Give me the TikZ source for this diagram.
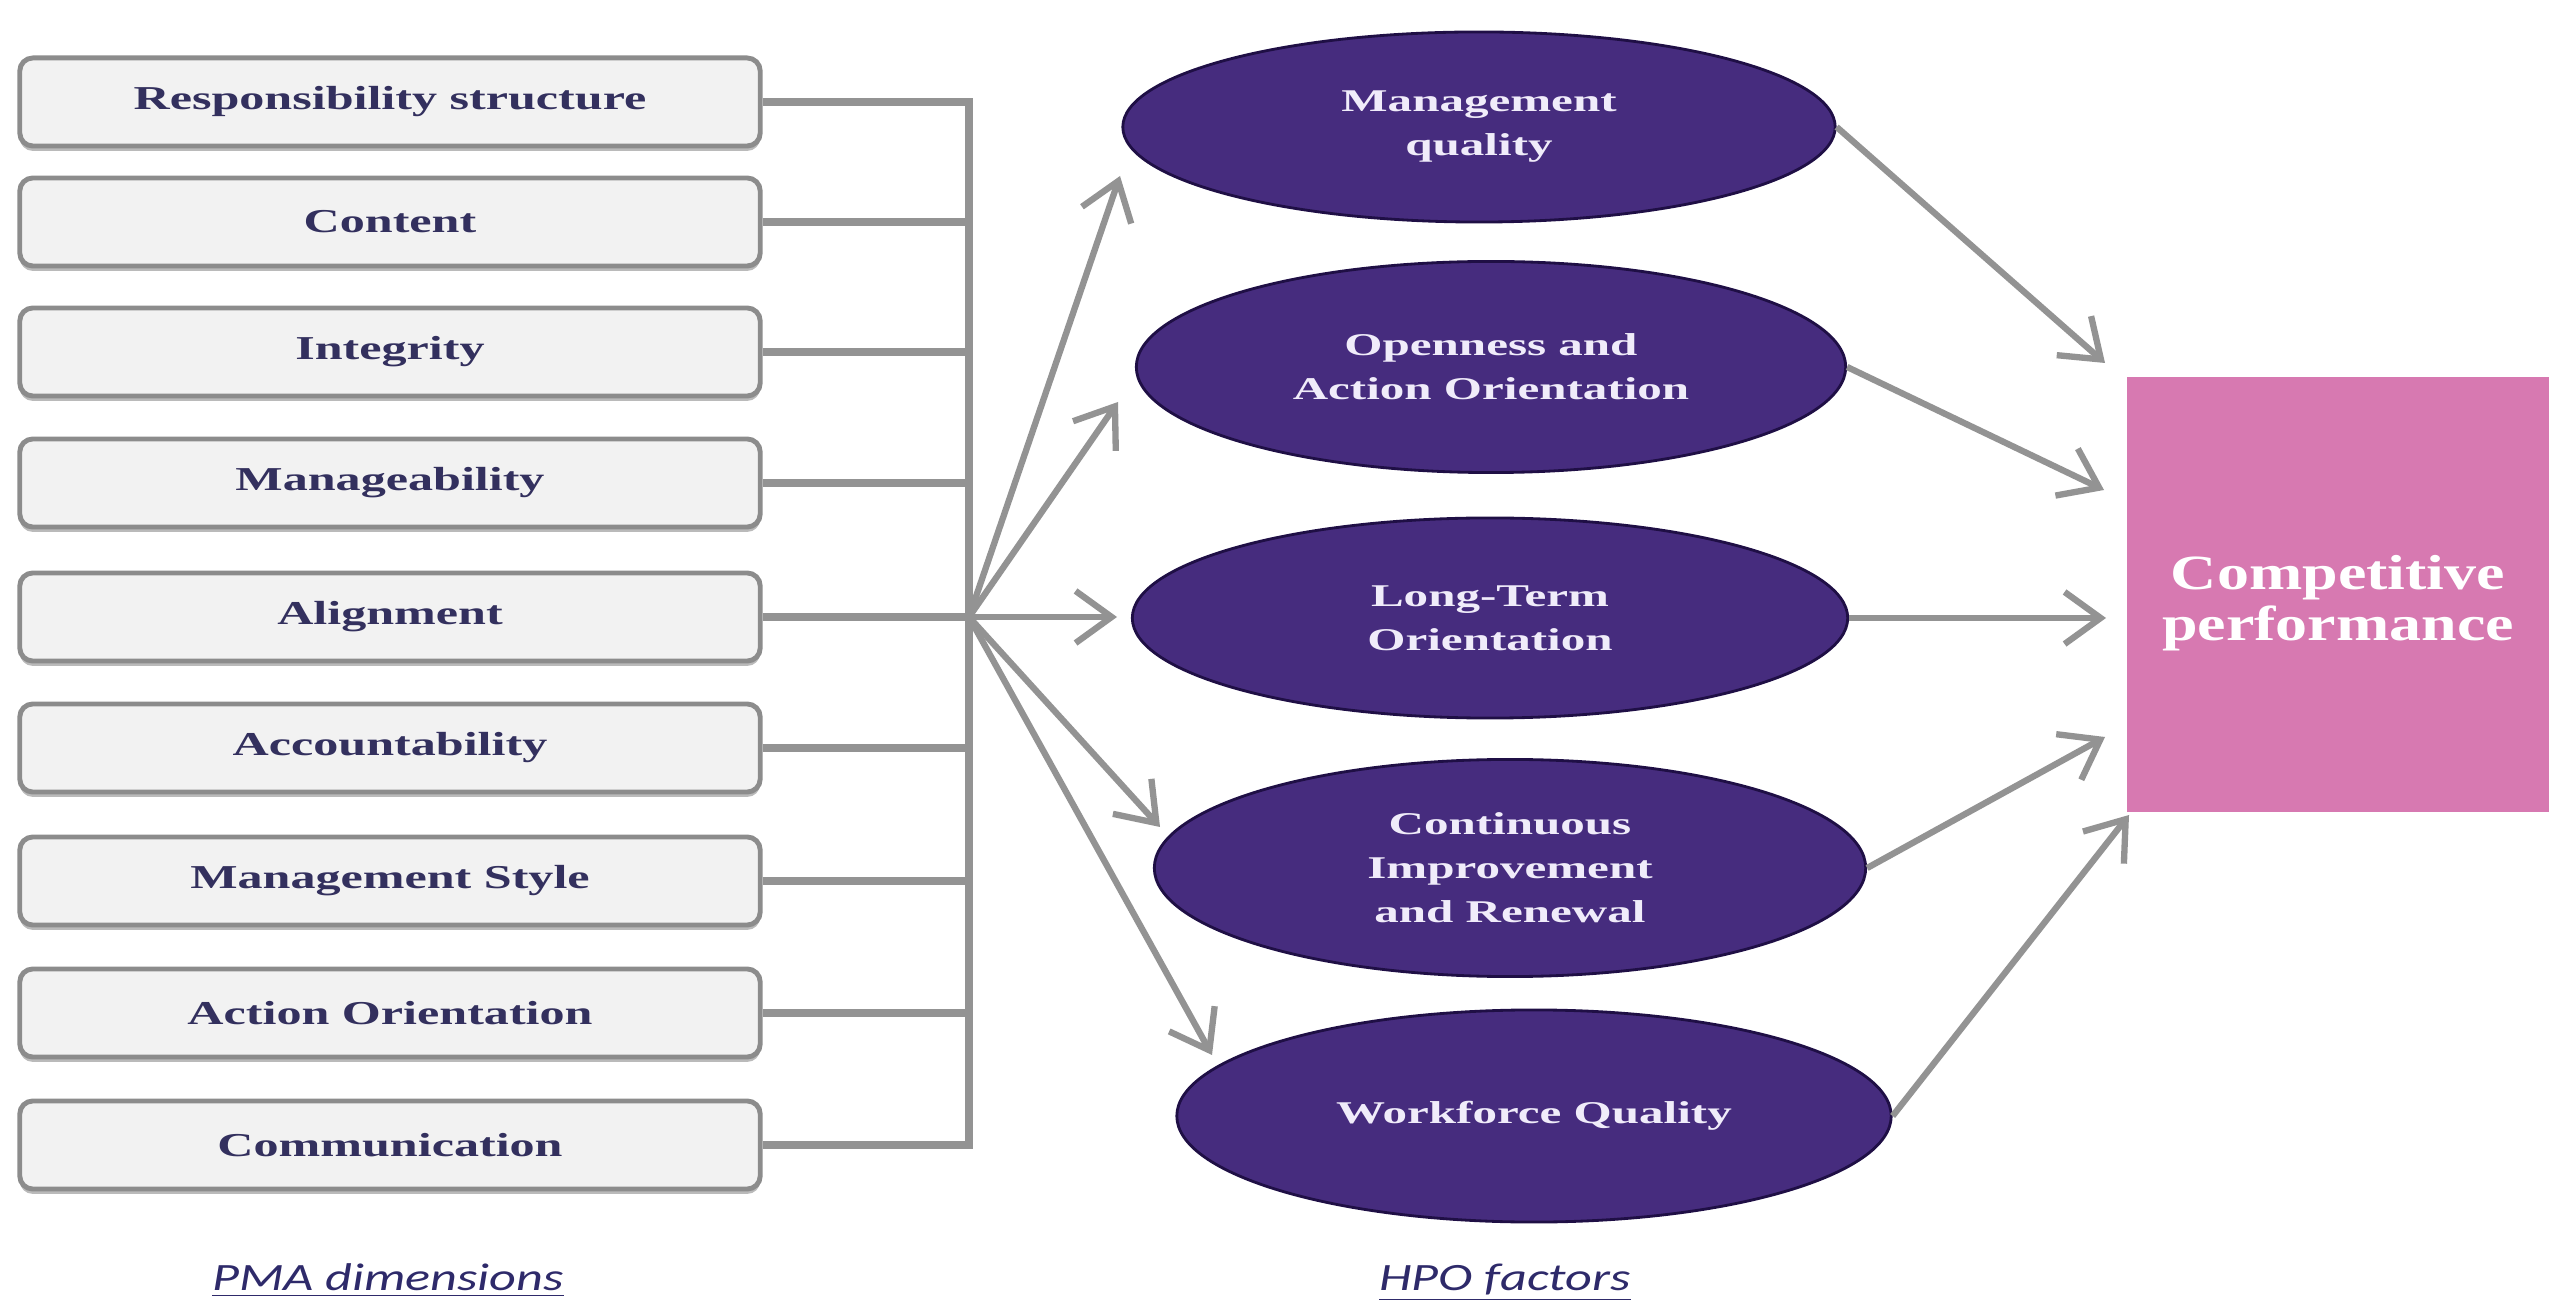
\documentclass[tikz,border=0pt]{standalone}
\usepackage{fontspec}
\setmainfont{Liberation Serif}
\newfontfamily\boxfont[FakeStretch=1.5]{Liberation Serif}
\newfontfamily\ovalfont[FakeStretch=1.55]{Liberation Serif}
\newfontfamily\perffont[FakeStretch=1.3]{Liberation Serif}
\newfontfamily\capfont[FakeStretch=1.35]{Carlito}
\usetikzlibrary{arrows.meta,shapes.geometric,shadows}

\definecolor{boxfill}{HTML}{F2F2F2}
\definecolor{boxline}{HTML}{8C8C8C}
\definecolor{boxtext}{HTML}{33305E}
\definecolor{ovalfill}{HTML}{462C7E}
\definecolor{ovalline}{HTML}{1F0F45}
\definecolor{ovaltext}{HTML}{F0ECFA}
\definecolor{perffill}{HTML}{D779B1}
\definecolor{linegray}{HTML}{939393}
\definecolor{captext}{HTML}{2E2A6A}

\begin{document}
\begin{tikzpicture}[x=0.01cm, y=-0.01cm,
  dimbox/.style={rectangle, rounded corners=1.3mm, draw=boxline, line width=1.4pt,
    fill=boxfill, minimum width=7.4cm, minimum height=0.88cm, inner sep=0pt,
    font=\boxfont\bfseries\fontsize{9.5}{11}\selectfont, text=boxtext,
    drop shadow={shadow xshift=0pt, shadow yshift=-1.4pt, opacity=0.45, fill=black!60}},
  factor/.style={ellipse, draw=ovalline, line width=0.8pt, fill=ovalfill, inner sep=0pt,
    align=center, text=ovaltext, font=\ovalfont\bfseries\fontsize{9}{12.5}\selectfont},
  perfbox/.style={rectangle, fill=perffill, inner sep=0pt,
    minimum width=4.22cm, minimum height=4.35cm},
  perftext/.style={inner sep=0pt, align=center, text=white,
    font=\perffont\bfseries\fontsize{14}{14.5}\selectfont},
  caplabel/.style={text=captext, inner sep=0pt, font=\capfont\itshape\fontsize{11}{13}\selectfont},
  bus/.style={draw=linegray, line width=2.2pt},
  flow/.style={draw=linegray, line width=1.8pt,
    -{Straight Barb[length=3.6mm, width=5.2mm]}}
]
\useasboundingbox (0,0) rectangle (2549,1304);

% PMA dimensions
\node[dimbox] (d1) at (390,102)  {Responsibility structure};
\node[dimbox] (d2) at (390,222)  {Content};
\node[dimbox] (d3) at (390,352)  {Integrity};
\node[dimbox] (d4) at (390,483)  {Manageability};
\node[dimbox] (d5) at (390,617)  {Alignment};
\node[dimbox] (d6) at (390,748)  {Accountability};
\node[dimbox] (d7) at (390,881)  {Management Style};
\node[dimbox] (d8) at (390,1013) {Action Orientation};
\node[dimbox] (d9) at (390,1145) {Communication};

% collecting bus
\coordinate (hub) at (969,617);
\foreach \i in {1,...,9}{
  \draw[bus] (d\i.east) -- (d\i.east -| hub);
}
\draw[bus, line cap=rect] (d1.east -| hub) -- (d9.east -| hub);

% HPO factors
\node[factor, minimum width=7.12cm, minimum height=1.90cm] (f1) at (1479,127)  {Management\\quality};
\node[factor, minimum width=7.09cm, minimum height=2.11cm] (f2) at (1491,367)  {Openness and\\Action Orientation};
\node[factor, minimum width=7.15cm, minimum height=2.00cm] (f3) at (1490,618)  {Long-Term\\Orientation};
\node[factor, minimum width=7.11cm, minimum height=2.17cm] (f4) at (1510,868)  {Continuous\\Improvement\\and Renewal};
\node[factor, minimum width=7.14cm, minimum height=2.12cm] (f5) at (1534,1116) {Workforce Quality};

% outcome
\node[perfbox] (cp) at (2338,594.5) {};
\node[perftext] (cptext) at (2338,603) {Competitive\\performance};

% arrow ends in front of the factors
\coordinate (h1) at (1120,176);
\coordinate (h2) at (1118,402);
\coordinate (h3) at (1117,617);
\coordinate (h4) at (1160,827);
\coordinate (h5) at (1212,1055);

\foreach \i in {1,...,5}{
  \draw[flow] (hub) -- (h\i);
}

% arrow ends in front of the outcome
\coordinate (p1) at (2105,363);
\coordinate (p2) at (2104,490);
\coordinate (p3) at (2106,618);
\coordinate (p4) at (2105,737);
\coordinate (p5) at (2129,815);

\foreach \i in {1,...,5}{
  \draw[flow] (f\i.east) -- (p\i);
}

% column captions
\node[caplabel, anchor=base] (pma) at (388,1290) {\underline{PMA dimensions}};
\node[caplabel, anchor=base] (hpo) at (1505,1290) {\underline{HPO factors}};
\end{tikzpicture}
\end{document}
